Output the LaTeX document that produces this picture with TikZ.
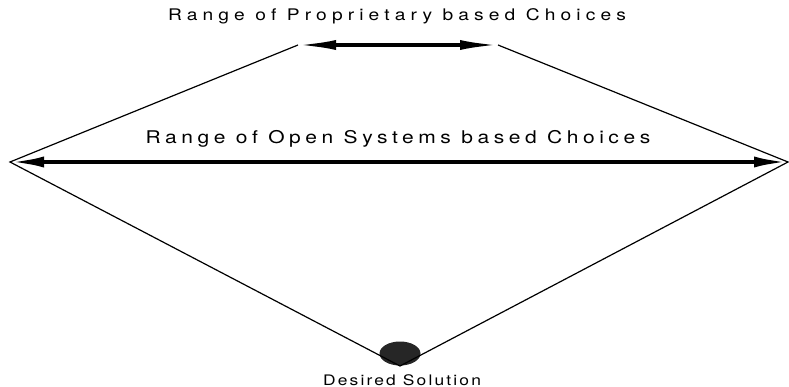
\documentclass[tikz,border=0pt]{standalone}
\usepackage{fontspec}
\setmainfont{TeX Gyre Heros}[FakeStretch=1.2]
\usepackage{tikz}
\usetikzlibrary{arrows.meta,positioning,shapes.geometric}

\begin{document}
\begin{tikzpicture}[
  x=1pt, y=-1pt,
  lbl/.style={anchor=base, inner sep=0pt},
  edge/.style={line width=1.2pt},
  rng/.style={{Latex[length=38pt,width=10pt]}-{Latex[length=38pt,width=10pt]}, line width=3.2pt},
  wide/.style={{Latex[length=34pt,width=11pt]}-{Latex[length=34pt,width=11pt]}, line width=4pt}
]
\useasboundingbox (0,0) rectangle (789,387);
% corners of the choice space
\coordinate (ptl) at (298,45);
\coordinate (ptr) at (498,45);
\coordinate (ol) at (10,162);
\coordinate (or) at (788,162);
\coordinate (bot) at (400,366);
\node[ellipse, fill=black!85, inner sep=0pt, minimum width=41, minimum height=24] (sol) at (400,353.5) {};
% labels
\node[lbl] (proplbl) at (397,21) {\fontsize{16}{18}\selectfont\addfontfeatures{FakeStretch=1.2,LetterSpace=32}Range of Proprietary based Choices};
\node[lbl] (openlbl) at (398,144) {\fontsize{17.5}{20}\selectfont\addfontfeatures{FakeStretch=1.2,LetterSpace=26}Range of Open Systems based Choices};
\node[lbl] (sollbl) at (402,385) {\fontsize{14.5}{16}\selectfont\addfontfeatures{FakeStretch=1.2,LetterSpace=15}Desired Solution};
% outline
\draw[edge] (ptl) -- (ol) -- (bot) -- (or) -- (ptr);
\draw[rng] (ptl) -- (ptr);
\draw[wide] (ol) -- (or);
\end{tikzpicture}
\end{document}
